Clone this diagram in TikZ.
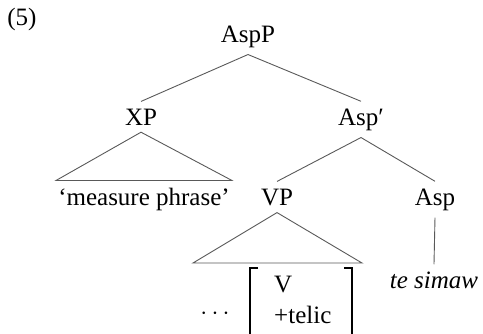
\documentclass[tikz,border=0pt]{standalone}
\usepackage{fontspec}
\setmainfont{Liberation Serif}
\usepackage{tikz}
\tikzstyle{cat}=[anchor=base, inner xsep=2pt, inner ysep=7pt, font=\fontsize{25}{30}\selectfont]
\tikzstyle{branch}=[draw=black!65, line width=0.9pt]
\tikzstyle{brack}=[draw=black, line width=1.1pt]
\newcommand{\cat}{\node[cat]}

\begin{document}
\begin{tikzpicture}[x=1pt, y=-1pt]
	\useasboundingbox (0,0) rectangle (483,333);
	%% example number, top left
	\cat (num) at (22,25) {(5)};
	%% the categories, placed on their baselines
	\cat (aspp) at (248,42) {AspP};
	\cat (xp) at (141,125) {XP};
	\cat (aspbar) at (361,125) {Asp′};
	\cat (mp) at (144,205) {‘measure phrase’};
	\cat (vp) at (277,205) {VP};
	\cat (asp) at (435,205) {Asp};
	\cat (te) at (434,288) {\itshape te simaw};
	%% feature matrix under VP
	\cat (v) at (272,292) [anchor=base west] {V};
	\cat (telic) at (272,323) [anchor=base west] {+telic};
	\cat (dots) at (215,319) {$\cdots$};
	\coordinate (vl) at (193,263);
	\coordinate (vr) at (362,263);
	\path[branch]
		(aspp.south) edge (xp.north)
		(aspp.south) edge (aspbar.north)
		(aspbar.south) edge (vp.north)
		(aspbar.south) edge (asp.north)
		(asp.south) edge (te.north)
	;   % the branches
	%% roofs over the unanalysed material
	\draw[branch] (xp.south) -- (mp.north east) -- (mp.north west) -- cycle;
	\draw[branch] (vp.south) -- (vr) -- (vl) -- cycle;
	%% square brackets round V / +telic
	\draw[brack] (258,268) -- (250,268) -- (250,340) -- (258,340);
	\draw[brack] (344,268) -- (352,268) -- (352,340) -- (344,340);
\end{tikzpicture}
\end{document}
